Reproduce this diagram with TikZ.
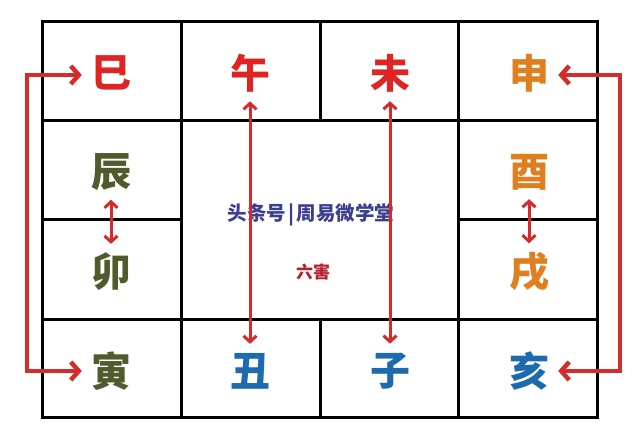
\documentclass[tikz,border=0pt]{standalone}
\usepackage{fontspec}
\newfontfamily\cjk{Noto Sans CJK SC}
\usetikzlibrary{arrows.meta}

\definecolor{zhired}{HTML}{E02323}
\definecolor{zhiorange}{HTML}{E07F20}
\definecolor{zhiolive}{HTML}{4F5B2B}
\definecolor{zhiblue}{HTML}{1E6AAE}
\definecolor{linkred}{HTML}{D42B2B}
\definecolor{markblue}{HTML}{3C3F8E}
\definecolor{markred}{HTML}{B3202E}

\begin{document}
\begin{tikzpicture}[
            x=1pt, y=-1pt,
            zhi/.style={inner sep=9pt, font=\cjk\bfseries\fontsize{40}{40}\selectfont},
            grid/.style={line width=3pt, line cap=rect},
            link/.style={draw=linkred, line width=4.5pt, {Straight Barb[length=8pt,width=18pt]}-{Straight Barb[length=8pt,width=18pt]}},
            pair/.style={draw=linkred, line width=3pt, {Straight Barb[length=6pt,width=13pt]}-{Straight Barb[length=6pt,width=13pt]}}
        ]

        % Page
        \useasboundingbox[fill=white] (0,0) rectangle (640,443);

        % Grid of the twelve cells
        \draw[grid] (42,22) rectangle (597,418);
        \draw[grid] (42,121) -- (597,121);
        \draw[grid] (42,320) -- (597,320);
        \draw[grid] (42,220) -- (181,220);
        \draw[grid] (458,220) -- (597,220);
        \draw[grid] (181,22) -- (181,418);
        \draw[grid] (458,22) -- (458,418);
        \draw[grid] (320,22) -- (320,121);
        \draw[grid] (320,320) -- (320,418);

        % Top row
        \node[zhi, zhired] (si) at (111,73) {巳};
        \node[zhi, zhired] (wu) at (250,73) {午};
        \node[zhi, zhired] (wei) at (390,73) {未};
        \node[zhi, zhiorange] (shen) at (529,73) {申};

        % Side columns
        \node[zhi, zhiolive] (chen) at (111,172) {辰};
        \node[zhi, zhiolive] (mao) at (111,272) {卯};
        \node[zhi, zhiorange] (you) at (529,172) {酉};
        \node[zhi, zhiorange] (xu) at (529,272) {戌};

        % Bottom row
        \node[zhi, zhiolive] (yin) at (111,371) {寅};
        \node[zhi, zhiblue] (chou) at (250,371) {丑};
        \node[zhi, zhiblue] (zi) at (390,371) {子};
        \node[zhi, zhiblue] (hai) at (529,371) {亥};

        % Centre texts
        \node[markblue, font=\cjk\bfseries\fontsize{19.5}{19.5}\selectfont] (sign) at (311,215) {头条号\hspace{2pt}|\hspace{2pt}周易微学堂};
        \node[markred, font=\cjk\bfseries\fontsize{17}{17}\selectfont] (title) at (313,272) {六害};

        % Pairs
        \coordinate (lturn) at (27,75);
        \coordinate (rturn) at (620,75);
        \draw[link] (si.west |- lturn) -- (lturn) |- (yin.west);
        \draw[link] (shen.east |- rturn) -- (rturn) |- (hai.east);
        \draw[pair] (wu.south) -- (chou.north);
        \draw[pair] (wei.south) -- (zi.north);
        \draw[pair] (chen.south) -- (mao.north);
        \draw[pair] (you.south) -- (xu.north);
    \end{tikzpicture}
\end{document}
